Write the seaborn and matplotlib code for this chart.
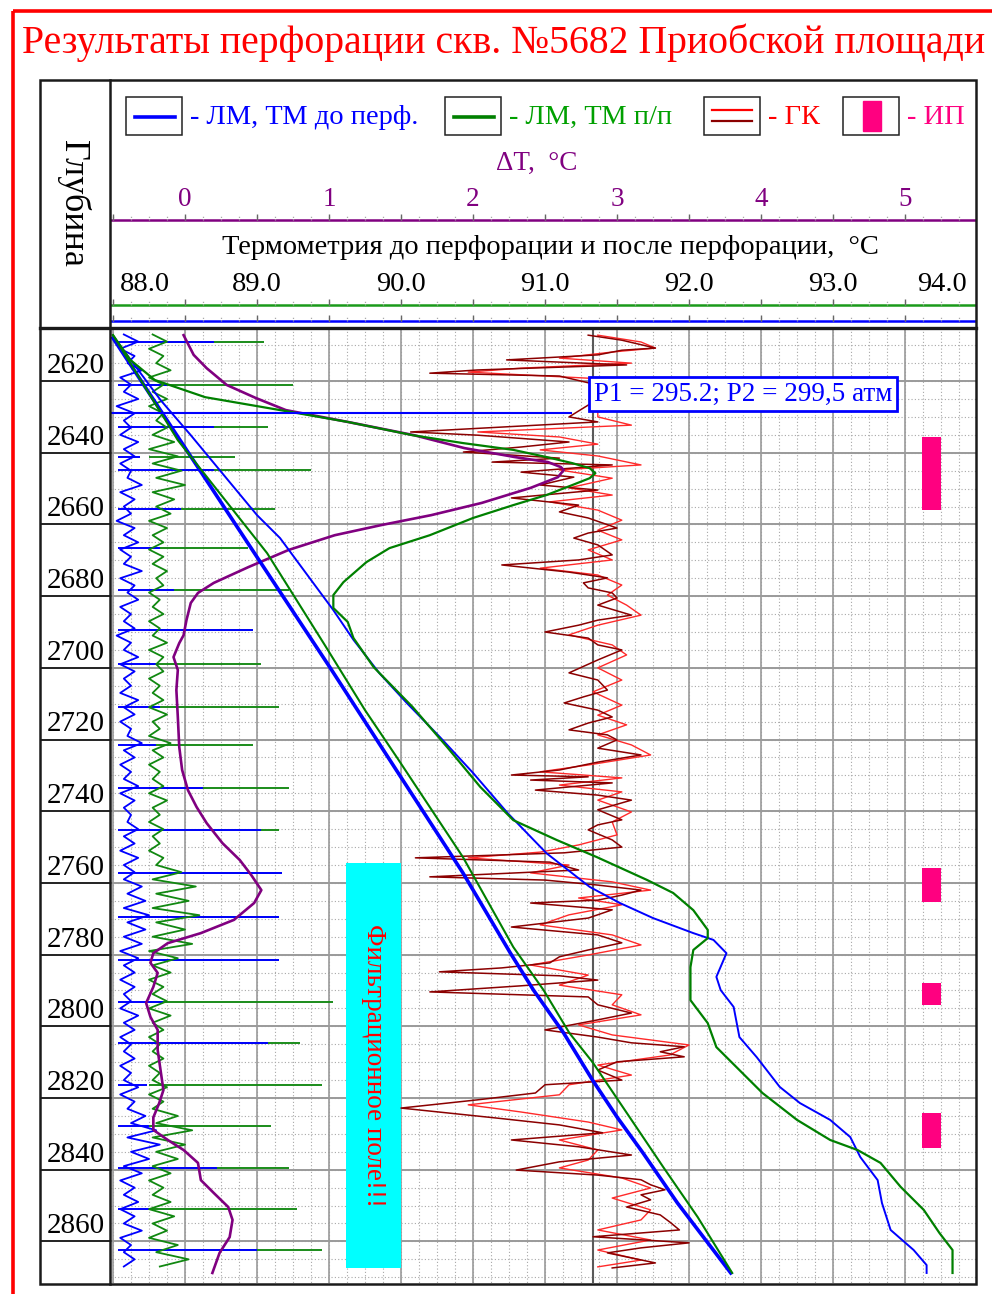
import numpy as np
import matplotlib
matplotlib.use("Agg")
import matplotlib.pyplot as plt
from matplotlib.patches import Rectangle
import seaborn as sns

SERIF = ['Liberation Serif', 'DejaVu Serif']
plt.rcParams['font.family'] = SERIF

# ------------------------------------------------------------------ data
title = "Результаты перфорации скв. №5682 Приобской площади"
depth_ticks = [2620, 2640, 2660, 2680, 2700, 2720, 2740, 2760, 2780, 2800, 2820, 2840, 2860]
temp_ticks = [88.0, 89.0, 90.0, 91.0, 92.0, 93.0, 94.0]
dt_ticks = [0, 1, 2, 3, 4, 5]

# ТМ до перфорации (thick blue)
tm_before_depth = [2608.0, 2633.7, 2669.1, 2700.1, 2729.3, 2757.2, 2779.6, 2789.9, 2801.9,
                   2815.0, 2825.3, 2835.3, 2849.3, 2868.8]
tm_before_t = [88.00, 88.42, 89.00, 89.51, 89.98, 90.43, 90.76, 90.92, 91.13,
               91.33, 91.50, 91.68, 91.92, 92.29]

# ТМ п/п, straight (green)
tm_after_depth = [2607.2, 2636.5, 2668.0, 2693.6, 2711.8, 2724.9, 2752.8, 2777.9, 2789.9,
                  2801.9, 2810.0, 2822.5, 2839.2, 2853.2, 2868.8]
tm_after_t = [88.00, 88.45, 89.07, 89.47, 89.75, 89.97, 90.43, 90.78, 90.99,
              91.17, 91.33, 91.54, 91.82, 92.06, 92.30]

# second blue thermogram (thin)
tm_blue2_depth = [2608.0, 2625.3, 2635.1, 2644.8, 2657.4, 2663.8, 2676.3, 2683.9, 2692.2, 2701.5,
                  2709.8, 2719.3, 2729.3, 2740.5, 2751.7, 2761.1, 2765.6, 2769.8, 2774.0, 2775.9,
                  2779.6, 2786.2, 2789.9, 2794.6, 2803.0, 2808.6, 2816.9, 2821.4, 2826.1, 2830.9,
                  2836.5, 2842.9, 2849.3, 2856.8, 2862.4, 2866.6, 2868.8]
tm_blue2_t = [88.01, 88.33, 88.54, 88.74, 89.00, 89.16, 89.39, 89.53, 89.67, 89.85,
              90.04, 90.27, 90.50, 90.74, 91.01, 91.31, 91.52, 91.75, 92.03, 92.17,
              92.26, 92.19, 92.22, 92.31, 92.35, 92.47, 92.63, 92.77, 92.98, 93.12,
              93.19, 93.31, 93.34, 93.40, 93.56, 93.65, 93.65]

# second green thermogram (with anomaly)
tm_green2_depth = [2607.2, 2614.1, 2619.7, 2624.5, 2628.1, 2631.4, 2635.1, 2637.3, 2639.2, 2641.2,
                   2642.9, 2644.3, 2645.7, 2647.1, 2649.0, 2651.8, 2654.6, 2658.2, 2663.0, 2666.6,
                   2670.5, 2676.1, 2679.7, 2683.3, 2687.2, 2691.7, 2699.8, 2710.9, 2722.1, 2733.2,
                   2742.5, 2748.0, 2752.8, 2759.2, 2762.8, 2767.6, 2773.1, 2775.4, 2778.7, 2783.5,
                   2792.7, 2799.1, 2805.8, 2812.2, 2818.6, 2826.1, 2831.7, 2834.5, 2838.1, 2844.8,
                   2851.2, 2857.7, 2862.4, 2868.8]
tm_green2_t = [88.00, 88.12, 88.29, 88.64, 89.16, 89.63, 90.08, 90.43, 90.78, 91.01,
               91.19, 91.31, 91.35, 91.31, 91.19, 91.01, 90.78, 90.50, 90.20, 89.92,
               89.76, 89.60, 89.53, 89.53, 89.63, 89.67, 89.81, 90.08, 90.32, 90.55,
               90.78, 91.08, 91.36, 91.71, 91.89, 92.03, 92.13, 92.13, 92.03, 92.01,
               92.01, 92.13, 92.19, 92.35, 92.51, 92.75, 92.98, 93.17, 93.33, 93.47,
               93.63, 93.74, 93.83, 93.83]

# ΔT, °C (purple)
dt_depth = [2607.2, 2612.7, 2616.4, 2621.1, 2624.7, 2628.1, 2631.4, 2635.1, 2638.7, 2641.2,
            2642.6, 2644.0, 2644.8, 2646.8, 2649.8, 2654.0, 2657.4, 2660.2, 2663.0, 2667.1,
            2671.9, 2676.3, 2679.1, 2681.9, 2686.7, 2690.9, 2693.1, 2697.0, 2700.6, 2706.2,
            2713.7, 2722.1, 2728.5, 2734.1, 2738.8, 2743.3, 2748.9, 2753.6, 2757.8, 2762.0,
            2765.6, 2770.3, 2774.0, 2776.8, 2779.6, 2782.3, 2785.1, 2789.0, 2793.5, 2797.4,
            2801.0, 2806.6, 2812.2, 2817.8, 2821.5, 2825.4, 2828.9, 2831.7, 2834.5, 2838.1,
            2842.9, 2846.5, 2850.4, 2854.0, 2858.8, 2863.2, 2868.8]
dt_val = [-0.01, 0.06, 0.15, 0.29, 0.49, 0.70, 1.13, 1.59, 1.94, 2.29,
          2.52, 2.61, 2.63, 2.59, 2.40, 2.06, 1.71, 1.36, 1.04, 0.72,
          0.44, 0.20, 0.09, 0.04, 0.01, -0.01, -0.04, -0.08, -0.05, -0.06,
          -0.05, -0.04, -0.02, 0.02, 0.08, 0.15, 0.26, 0.38, 0.46, 0.53,
          0.48, 0.34, 0.11, -0.12, -0.22, -0.24, -0.19, -0.22, -0.27, -0.24,
          -0.19, -0.19, -0.17, -0.15, -0.18, -0.22, -0.22, -0.12, -0.01, 0.09,
          0.11, 0.20, 0.30, 0.33, 0.31, 0.24, 0.19]

# ГК (dark red)
gk_dark_depth = [2607.2, 2608.6, 2610.8, 2611.4, 2612.7, 2614.1, 2615.5, 2616.9, 2617.8, 2618.6,
                 2621.1, 2623.9, 2626.7, 2630.0, 2631.4, 2634.2, 2635.1, 2637.0, 2638.4, 2639.8,
                 2641.5, 2642.6, 2643.4, 2645.4, 2646.8, 2649.0, 2650.4, 2652.6, 2654.6, 2656.5,
                 2658.2, 2661.0, 2662.4, 2663.8, 2665.7, 2668.5, 2669.9, 2671.3, 2673.3, 2674.9,
                 2676.3, 2677.7, 2679.1, 2680.5, 2682.5, 2685.3, 2686.7, 2688.1, 2690.0, 2691.7,
                 2693.6, 2695.0, 2697.8, 2701.4, 2703.4, 2706.2, 2708.1, 2709.8, 2711.8, 2713.7,
                 2715.4, 2717.3, 2718.7, 2720.1, 2722.4, 2724.3, 2726.3, 2728.5, 2729.9, 2730.4,
                 2731.3, 2732.1, 2734.1, 2735.5, 2736.9, 2739.6, 2742.4, 2743.8, 2745.2, 2748.0,
                 2750.0, 2751.6, 2753.0, 2754.2, 2756.4, 2758.3, 2759.2, 2760.6, 2762.0, 2763.4,
                 2764.8, 2765.6, 2767.5, 2769.8, 2772.3, 2774.5, 2776.7, 2778.7, 2780.6, 2782.3,
                 2783.7, 2784.8, 2785.9, 2787.1, 2788.7, 2790.4, 2791.8, 2794.0, 2796.3, 2798.2,
                 2801.0, 2803.0, 2804.6, 2805.7, 2807.1, 2808.5, 2809.9, 2812.2, 2815.0, 2816.3,
                 2818.6, 2820.5, 2822.8, 2824.2, 2825.6, 2827.5, 2829.7, 2831.7, 2833.6, 2835.9,
                 2837.8, 2840.1, 2841.5, 2842.8, 2844.2, 2845.6, 2847.0, 2848.4, 2850.4, 2852.6,
                 2854.6, 2856.8, 2858.7, 2860.4, 2861.8, 2863.2, 2864.6, 2866.0, 2867.4]
gk_dark = [9.9, 10.6, 11.3, 10.6, 10.1, 8.2, 10.7, 7.6, 6.6, 9.3,
           10.1, 10.4, 9.9, 9.5, 10.1, 6.2, 7.6, 9.5, 8.5, 7.3,
           9.3, 7.9, 10.4, 8.5, 9.6, 8.9, 10.1, 8.3, 9.7, 9.3,
           9.9, 10.5, 9.9, 9.6, 10.1, 10.4, 9.7, 8.1, 9.5, 10.3,
           9.8, 9.9, 10.4, 10.5, 10.1, 10.8, 10.1, 9.7, 9.0, 9.9,
           10.1, 10.6, 10.1, 9.5, 10.1, 10.3, 9.8, 9.4, 10.1, 10.4,
           9.9, 9.5, 10.3, 10.5, 10.1, 11.0, 10.1, 9.3, 8.3, 9.9,
           8.7, 10.4, 8.8, 10.1, 10.8, 10.1, 10.6, 10.1, 9.9, 10.4,
           10.6, 9.4, 6.3, 9.1, 9.7, 6.6, 9.0, 10.1, 11.0, 10.6,
           10.1, 8.7, 10.4, 9.9, 8.3, 10.1, 10.6, 9.9, 9.3, 9.1,
           8.1, 6.8, 9.3, 10.1, 8.5, 6.6, 9.9, 10.1, 10.8, 10.1,
           9.0, 10.1, 10.8, 11.9, 11.4, 11.9, 10.5, 10.1, 10.6, 9.0,
           8.8, 7.6, 6.0, 7.0, 8.0, 9.3, 10.2, 8.3, 9.7, 10.8,
           9.3, 8.4, 10.1, 11.0, 11.2, 11.5, 11.0, 11.2, 10.7, 11.4,
           11.6, 11.8, 10.0, 12.0, 11.0, 10.3, 10.8, 11.3, 10.4]

# ГК (light red)
gk_light_depth = [2607.2, 2609.1, 2610.8, 2611.9, 2613.6, 2615.0, 2616.4, 2617.5, 2619.2, 2622.5,
                  2625.9, 2630.0, 2632.3, 2634.2, 2635.6, 2637.6, 2639.2, 2640.9, 2643.4, 2644.8,
                  2647.1, 2649.8, 2651.8, 2653.7, 2656.0, 2658.8, 2661.6, 2664.3, 2667.1, 2669.9,
                  2672.2, 2674.1, 2676.9, 2679.7, 2682.5, 2685.3, 2688.1, 2690.8, 2693.6, 2696.4,
                  2700.0, 2703.4, 2706.7, 2710.4, 2713.2, 2715.9, 2718.7, 2721.5, 2724.3, 2727.1,
                  2729.0, 2730.7, 2732.7, 2734.6, 2736.9, 2740.2, 2743.0, 2746.6, 2749.4, 2751.4,
                  2753.0, 2755.0, 2757.2, 2759.7, 2762.0, 2764.2, 2766.1, 2768.9, 2771.7, 2774.5,
                  2777.3, 2780.1, 2782.9, 2785.7, 2788.5, 2791.2, 2794.0, 2796.8, 2799.6, 2802.4,
                  2805.2, 2808.0, 2810.8, 2813.6, 2816.3, 2819.1, 2821.9, 2823.9, 2826.7, 2828.9,
                  2831.7, 2834.5, 2837.3, 2839.5, 2842.3, 2845.1, 2847.9, 2851.2, 2854.0, 2856.8,
                  2859.6, 2862.4, 2865.2, 2867.1]
gk_light = [10.1, 11.0, 11.3, 10.4, 9.3, 10.8, 8.5, 7.4, 9.9, 10.4,
            10.1, 10.1, 10.8, 7.6, 9.3, 10.1, 8.9, 10.1, 11.0, 9.3,
            10.4, 9.5, 10.4, 9.1, 10.1, 10.6, 10.1, 10.6, 9.9, 10.4,
            8.9, 10.1, 10.6, 10.3, 10.7, 11.0, 10.1, 9.5, 10.4, 10.7,
            10.1, 10.6, 10.0, 10.6, 10.1, 10.7, 10.1, 10.8, 11.2, 9.9,
            8.9, 10.6, 9.3, 10.6, 10.1, 10.8, 10.4, 10.5, 9.7, 8.9,
            7.4, 9.5, 8.7, 10.4, 11.2, 9.7, 10.6, 9.5, 8.9, 10.4,
            11.0, 9.9, 8.7, 9.9, 9.3, 10.6, 10.4, 11.0, 9.7, 10.4,
            12.0, 11.6, 10.1, 10.8, 9.5, 9.3, 7.4, 8.5, 9.9, 10.6,
            9.3, 10.1, 9.9, 9.3, 10.6, 11.2, 10.4, 11.2, 11.0, 10.1,
            11.2, 10.1, 11.0, 10.1]

# ЛМ (magnetic locator) traces, sampled every 2 m
lm_depth = np.arange(2607, 2868, 2)
lm_blue = [0.3, 0.7, 0.2, 0.6, 0.4, 0.8, 0.2, 0.5, 0.3, 0.7,
           0.1, 0.6, 0.3, 0.5, 0.2, 0.7, 0.3, 0.6, 0.2, 0.5,
           0.4, 0.8, 0.2, 0.6, 0.3, 0.5, 0.1, 0.6, 0.3, 0.7,
           0.2, 0.5, 0.3, 0.8, 0.2, 0.6, 0.4, 0.7, 0.2, 0.5,
           0.3, 0.6, 0.1, 0.5, 0.3, 0.7, 0.2, 0.6, 0.3, 0.5,
           0.2, 0.7, 0.3, 0.6, 0.2, 0.5, 0.4, 0.8, 0.3, 0.6,
           0.2, 0.5, 0.3, 0.7, 0.2, 0.6, 0.3, 0.5, 0.4, 0.7,
           0.3, 0.6, 0.2, 0.7, 0.3, 0.6, 0.3, 0.8, 0.4, 0.9,
           0.3, 1.0, 0.4, 0.9, 0.3, 0.8, 0.2, 0.7, 0.3, 0.6,
           0.2, 0.6, 0.3, 0.5, 0.2, 0.7, 0.3, 0.6, 0.2, 0.5,
           0.3, 0.6, 0.2, 0.5, 0.3, 0.7, 0.2, 0.6, 0.4, 0.9,
           0.5, 1.2, 0.4, 1.3, 0.5, 1.0, 0.3, 0.8, 0.2, 0.6,
           0.3, 0.7, 0.2, 0.6, 0.3, 0.8, 0.2, 0.5, 0.3, 0.6,
           0.3]
lm_green = [1.1, 1.5, 1.0, 1.4, 1.2, 1.6, 1.0, 1.4, 1.1, 1.5,
            1.0, 1.4, 1.2, 1.5, 1.1, 1.7, 1.0, 1.8, 1.1, 1.9,
            1.2, 2.0, 1.1, 1.7, 1.2, 1.6, 1.0, 1.5, 1.1, 1.4,
            1.0, 1.4, 1.1, 1.5, 1.2, 1.4, 1.0, 1.3, 1.1, 1.4,
            1.0, 1.3, 1.1, 1.5, 1.0, 1.4, 1.2, 1.4, 1.0, 1.3,
            1.1, 1.4, 1.0, 1.5, 1.1, 1.3, 1.0, 1.6, 1.1, 1.4,
            1.0, 1.3, 1.1, 1.4, 1.0, 1.5, 1.1, 1.3, 1.0, 1.4,
            1.1, 1.3, 1.0, 1.4, 1.2, 1.9, 1.1, 2.3, 1.2, 2.1,
            1.1, 2.4, 1.2, 2.0, 1.1, 2.2, 1.0, 1.8, 1.1, 1.6,
            1.0, 1.4, 1.1, 1.5, 1.0, 1.6, 1.1, 1.4, 1.0, 1.3,
            1.1, 1.4, 1.0, 1.3, 1.1, 1.5, 1.0, 1.4, 1.1, 1.8,
            1.2, 2.2, 1.1, 2.0, 1.2, 1.8, 1.1, 1.6, 1.0, 1.4,
            1.1, 1.6, 1.0, 1.7, 1.1, 1.5, 1.0, 1.8, 1.2, 2.1,
            1.3]

# casing collar spikes on ЛМ
collar_depth = [2609.1, 2621.1, 2632.8, 2641.2, 2644.8, 2655.7, 2666.6, 2678.3, 2689.5, 2698.9,
                2710.9, 2721.5, 2733.5, 2745.2, 2757.2, 2769.5, 2781.5, 2793.2, 2804.7, 2816.4,
                2827.8, 2839.5, 2851.0, 2862.4]
collar_green = [4.2, 5.0, 4.3, 3.4, 5.5, 4.5, 3.75, 4.9, 3.9, 4.1,
                4.6, 3.9, 4.9, 4.6, 4.7, 4.6, 4.6, 6.1, 5.2, 5.8,
                4.4, 4.9, 5.1, 5.8]
collar_blue = [2.8, 1.5, 2.8, 0.75, 2.8, 1.9, 1.3, 1.7, 3.9, 1.25,
               1.3, 1.2, 2.5, 4.1, 4.7, 4.6, 4.6, 1.4, 4.3, 0.95,
               1.0, 2.9, 1.0, 4.0]

# ИП — perforation intervals
perf_top = [2635.6, 2755.8, 2787.9, 2824.2]
perf_bot = [2656.0, 2765.3, 2794.1, 2834.0]

# "filtration field" block
filt_top, filt_bot = 2754.4, 2867.4
pressure_depth = 2628.8
pressure_text = "P1 = 295.2; P2 = 299,5 атм"

# ------------------------------------------------------------------ layout
W, H = 992, 1294
PL, PR, PT, PB = 111, 976, 328, 1283
DL, FT = 40, 80
T_LIM = (87.986, 93.993)
DT_LIM = (T_LIM[0] - 88.5, T_LIM[1] - 88.5)
GK_LIM = (3 * (T_LIM[0] - 88), 3 * (T_LIM[1] - 88))
LM_LIM = (4 * (T_LIM[0] - 88), 4 * (T_LIM[1] - 88))
D_LIM = (2871.6, 2605.2)

C_BLUE = '#0000FF'
C_GREEN = '#008000'
C_PURPLE = '#800080'
C_RED = '#FF2A2A'
C_DRED = '#8B0000'
C_PINK = '#FF0080'


def fa(l, t, r, b):
    return [l / W, 1 - b / H, (r - l) / W, (b - t) / H]


fig = plt.figure(figsize=(W / 100, H / 100), dpi=100)
fig.patch.set_facecolor('white')

ax = fig.add_axes(fa(PL, PT, PR, PB))
ax.set_xlim(*T_LIM)
ax.set_ylim(*D_LIM)
ax.axis('off')

# grid
minor_v = np.arange(88.0, 94.0, 0.125)
major_v = np.arange(88.0, 94.01, 0.5)
minor_h = np.arange(2605, 2872, 5)
ax.vlines(minor_v, D_LIM[1], D_LIM[0], colors='#a8a8a8', lw=0.8, linestyles=(0, (1, 2)), zorder=1)
ax.hlines(minor_h, T_LIM[0], T_LIM[1], colors='#a8a8a8', lw=0.8, linestyles=(0, (1, 2)), zorder=1)
ax.vlines(major_v, D_LIM[1], D_LIM[0], colors='#9a9a9a', lw=1.2, zorder=2)
ax.hlines(depth_ticks, T_LIM[0], T_LIM[1], colors='#9a9a9a', lw=1.4, zorder=2)

# cyan filtration block and perforation bars
ax.barh([(filt_top + filt_bot) / 2], [0.38], left=89.62, height=[filt_bot - filt_top],
        color='#00FFFF', zorder=3)
ax.text(89.81, (filt_top + filt_bot) / 2, "Фильтрационное поле!!!", rotation=270,
        color='red', fontsize=19.5, ha='center', va='center', zorder=4)
ax.barh([(t + b) / 2 for t, b in zip(perf_top, perf_bot)], 0.132, left=93.618,
        height=[b - t for t, b in zip(perf_top, perf_bot)], color=C_PINK, zorder=3)

# ЛМ
ax_lm = ax.twiny()
ax_lm.set_xlim(*LM_LIM)
ax_lm.axis('off')
ax_lm.hlines(collar_depth, 1.0, collar_green, colors='#1a8c1a', lw=1.4)
ax_lm.hlines(collar_depth, 0.15, collar_blue, colors=C_BLUE, lw=1.4)
sns.lineplot(x=lm_blue, y=lm_depth, sort=False, estimator=None, color=C_BLUE, lw=1.3, ax=ax_lm)
sns.lineplot(x=lm_green, y=lm_depth, sort=False, estimator=None, color='#118811', lw=1.3, ax=ax_lm)
ax_lm.set_xlim(*LM_LIM)

# ГК
ax_gk = ax.twiny()
ax_gk.set_xlim(*GK_LIM)
ax_gk.axis('off')
ax_gk.axvline(10.0, color='#5a5a5a', lw=1.5)
n = min(len(gk_light), len(gk_light_depth))
sns.lineplot(x=gk_light[:n], y=gk_light_depth[:n], sort=False, estimator=None, color=C_RED, lw=1.0, ax=ax_gk)
n = min(len(gk_dark), len(gk_dark_depth))
sns.lineplot(x=gk_dark[:n], y=gk_dark_depth[:n], sort=False, estimator=None, color=C_DRED, lw=1.1, ax=ax_gk)
ax_gk.set_xlim(*GK_LIM)

# ΔT
ax_dt = ax.twiny()
ax_dt.set_xlim(*DT_LIM)
ax_dt.axis('off')
sns.lineplot(x=dt_val, y=dt_depth, sort=False, estimator=None, color=C_PURPLE, lw=1.9, ax=ax_dt)
ax_dt.set_xlim(*DT_LIM)

# thermograms
ax_t = ax.twiny()
ax_t.set_xlim(*T_LIM)
ax_t.axis('off')
sns.lineplot(x=tm_before_t, y=tm_before_depth, sort=False, estimator=None, color=C_BLUE, lw=2.6, ax=ax_t)
sns.lineplot(x=tm_after_t, y=tm_after_depth, sort=False, estimator=None, color=C_GREEN, lw=1.5, ax=ax_t)
sns.lineplot(x=tm_blue2_t, y=tm_blue2_depth, sort=False, estimator=None, color=C_BLUE, lw=1.4, ax=ax_t)
sns.lineplot(x=tm_green2_t, y=tm_green2_depth, sort=False, estimator=None, color=C_GREEN, lw=1.6, ax=ax_t)
ax_t.hlines([pressure_depth], T_LIM[0], 91.19, colors=C_BLUE, lw=1.5, zorder=5)
ax_t.text(92.375, 2623.6, pressure_text, color=C_BLUE, fontsize=19.5, ha='center', va='center',
          zorder=6, bbox=dict(boxstyle='square,pad=0.18', fc='white', ec=C_BLUE, lw=2))
ax_t.set_xlim(*T_LIM)
ax.set_ylim(*D_LIM)

# depth column
axd = fig.add_axes(fa(DL, PT, PL, PB), sharey=ax)
axd.set_xlim(0, 1)
axd.axis('off')
axd.hlines(depth_ticks, 0, 1, colors='#111111', lw=1.3)
for d in depth_ticks:
    axd.text(0.5, d - 4.2, str(d), ha='center', va='center', fontsize=21, color='black')
ax.set_ylim(*D_LIM)

# header scales
axh = fig.add_axes(fa(PL, FT, PR, PT))
axh.set_xlim(*T_LIM)
axh.set_ylim(0, 1)
axh.axis('off')


def fy(y):
    return (PT - y) / (PT - FT)


tick_major = np.arange(88.0, 94.01, 0.5)
tick_minor = np.arange(88.0, 94.0, 0.125)
for yline, col in [(220, C_PURPLE), (305, '#1a9a1a'), (321, C_BLUE)]:
    axh.axhline(fy(yline), color=col, lw=1.8)
    axh.vlines(tick_minor, fy(yline), fy(yline - 5), colors='#aaaaaa', lw=0.9, linestyles=(0, (1, 1)))
    axh.vlines(tick_major, fy(yline), fy(yline - 6), colors='#666666', lw=1.0)
for v in dt_ticks:
    axh.text(v + 88.5, fy(199), str(v), color=C_PURPLE, fontsize=19.5, ha='center', va='center')
axh.text(90.94, fy(163), "ΔT,  °C", color=C_PURPLE, fontsize=19.5, ha='center', va='center')
axh.text(91.04, fy(247), "Термометрия до перфорации и после перфорации,  °C", color='black',
         fontsize=20.5, ha='center', va='center')
for v in temp_ticks:
    pos = min(max(v, 88.22), 93.76)
    axh.text(pos, fy(285), f"{v:.1f}", color='black', fontsize=20.5, ha='center', va='center')

# overlay: frame, title, legend
axf = fig.add_axes([0, 0, 1, 1])
axf.set_xlim(0, W)
axf.set_ylim(H, 0)
axf.axis('off')
axf.add_patch(Rectangle((13, 11), 1000, 1300, fill=False, ec='red', lw=2.6))
axf.add_patch(Rectangle((40, 80), PR - 40, PB + 1 - 80, fill=False, ec='#1a1a1a', lw=1.8))
axf.plot([40, PR], [PT, PT], color='#1a1a1a', lw=2.4)
axf.plot([110, 110], [80, PB + 1], color='#1a1a1a', lw=1.8)
axf.text(504, 43, title, color='red', fontsize=28.6, ha='center', va='center')
axf.text(73, 203, "Глубина", rotation=270, fontsize=26, ha='center', va='center', color='black')

leg = [(126, C_BLUE, "- ЛМ, ТМ до перф.", C_BLUE),
       (445, C_GREEN, "- ЛМ, ТМ п/п", '#00A000'),
       (704, None, "- ГК", 'red'),
       (843, None, "- ИП", C_PINK)]
for x0, lc, txt, tc in leg:
    axf.add_patch(Rectangle((x0, 97), 56, 38, fill=False, ec='#222222', lw=1.1))
    if x0 == 704:
        axf.plot([x0 + 8, x0 + 48], [110, 110], color='red', lw=1.6)
        axf.plot([x0 + 8, x0 + 48], [121, 121], color=C_DRED, lw=1.6)
    elif x0 == 843:
        axf.add_patch(Rectangle((x0 + 20, 101), 18, 30, color=C_PINK))
    else:
        axf.plot([x0 + 9, x0 + 49], [117, 117], color=lc, lw=2.6)
    axf.text(x0 + 64, 117, txt, color=tc, fontsize=20.5, ha='left', va='center')

fig.savefig('out.png', dpi=100, facecolor='white')
